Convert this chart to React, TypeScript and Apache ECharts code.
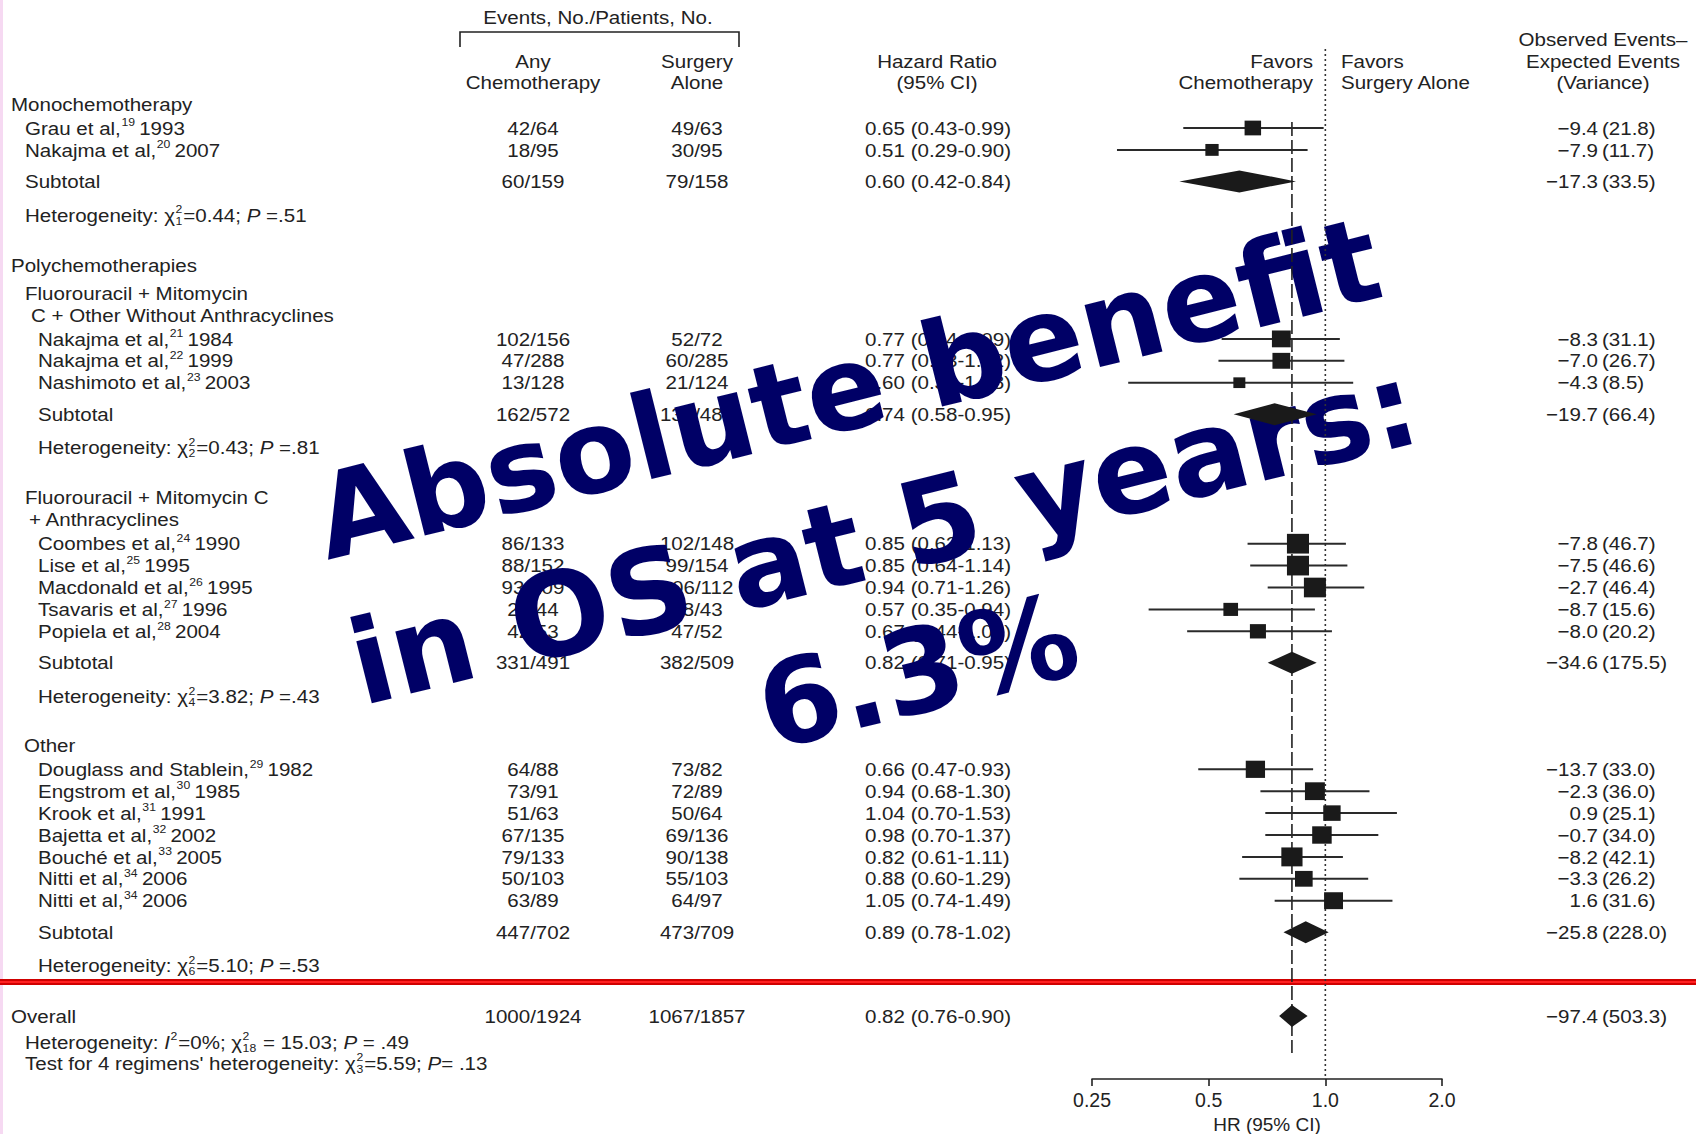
import React, { useEffect, useRef } from "react";
import * as echarts from "echarts";

// ---------------- data ----------------
const studyNames = ["Grau et al,", "Nakajma et al,", "Nakajma et al,", "Nakajma et al,", "Nashimoto et al,", "Coombes et al,", "Lise et al,", "Macdonald et al,", "Tsavaris et al,", "Popiela et al,", "Douglass and Stablein,", "Engstrom et al,", "Krook et al,", "Bajetta et al,", "Bouché et al,", "Nitti et al,", "Nitti et al,"];
const studyRefs = ["19", "20", "21", "22", "23", "24", "25", "26", "27", "28", "29", "30", "31", "32", "33", "34", "34"];
const studyYears = ["1993", "2007", "1984", "1999", "2003", "1990", "1995", "1995", "1996", "2004", "1982", "1985", "1991", "2002", "2005", "2006", "2006"];
const studyGroup = [0, 0, 1, 1, 1, 2, 2, 2, 2, 2, 3, 3, 3, 3, 3, 3, 3];
const chemoEvents = [42, 18, 102, 47, 13, 86, 88, 93, 22, 42, 64, 73, 51, 67, 79, 50, 63];
const chemoPatients = [64, 95, 156, 288, 128, 133, 152, 109, 44, 53, 88, 91, 63, 135, 133, 103, 89];
const surgEvents = [49, 30, 52, 60, 21, 102, 99, 106, 28, 47, 73, 72, 50, 69, 90, 55, 64];
const surgPatients = [63, 95, 72, 285, 124, 148, 154, 112, 43, 52, 82, 89, 64, 136, 138, 103, 97];
const hrEst = [0.65, 0.51, 0.77, 0.77, 0.60, 0.85, 0.85, 0.94, 0.57, 0.67, 0.66, 0.94, 1.04, 0.98, 0.82, 0.88, 1.05];
const hrLow = [0.43, 0.29, 0.54, 0.53, 0.31, 0.63, 0.64, 0.71, 0.35, 0.44, 0.47, 0.68, 0.70, 0.70, 0.61, 0.60, 0.74];
const hrHigh = [0.99, 0.90, 1.09, 1.12, 1.18, 1.13, 1.14, 1.26, 0.94, 1.04, 0.93, 1.30, 1.53, 1.37, 1.11, 1.29, 1.49];
const oMinusE = [-9.4, -7.9, -8.3, -7.0, -4.3, -7.8, -7.5, -2.7, -8.7, -8.0, -13.7, -2.3, 0.9, -0.7, -8.2, -3.3, 1.6];
const variance = [21.8, 11.7, 31.1, 26.7, 8.5, 46.7, 46.6, 46.4, 15.6, 20.2, 33.0, 36.0, 25.1, 34.0, 42.1, 26.2, 31.6];

const groupTitles = [["Monochemotherapy"], ["Fluorouracil + Mitomycin", "C + Other Without Anthracyclines"], ["Fluorouracil + Mitomycin C", "+ Anthracyclines"], ["Other"]];
const subChemoEvents = [60, 162, 331, 447];
const subChemoPatients = [159, 572, 491, 702];
const subSurgEvents = [79, 133, 382, 473];
const subSurgPatients = [158, 481, 509, 709];
const subHr = [0.60, 0.74, 0.82, 0.89];
const subLow = [0.42, 0.58, 0.71, 0.78];
const subHigh = [0.84, 0.95, 0.95, 1.02];
const subOE = [-17.3, -19.7, -34.6, -25.8];
const subVar = [33.5, 66.4, 175.5, 228.0];
const hetChi = ["0.44", "0.43", "3.82", "5.10"];
const hetDf = ["1", "2", "4", "6"];
const hetP = [".51", ".81", ".43", ".53"];

const overallChemo = "1000/1924";
const overallSurg = "1067/1857";
const overallHr = 0.82;
const overallLow = 0.76;
const overallHigh = 0.90;
const overallOE = -97.4;
const overallVar = 503.3;

const axisTicks = [0.25, 0.5, 1, 2];
const axisTickLabels = ["0.25", "0.5", "1.0", "2.0"];

// ---------------- style ----------------
const INK = "#222";
const FS = 18.5;
const SX = 1.11;
const FAMILY = "'Liberation Sans', Arial, Helvetica, sans-serif";
const SCRIPT = 11;

let measureCtx: CanvasRenderingContext2D | null = null;
function tw(s: string, size: number, italic = false): number {
  if (!measureCtx) measureCtx = document.createElement("canvas").getContext("2d");
  measureCtx!.font = `${italic ? "italic " : ""}${size}px "Liberation Sans"`;
  return measureCtx!.measureText(s).width * SX;
}

function txt(text: string, x: number, y: number, align = "left", size = FS, italic = false): any {
  const font = `${italic ? "italic " : ""}${size}px ${FAMILY}`;
  return {
    type: "text",
    x,
    y,
    scaleX: SX,
    silent: true,
    style: {
      text,
      x: 0,
      y: 0,
      fill: INK,
      font,
      fontSize: size,
      fontFamily: FAMILY,
      fontStyle: italic ? "italic" : "normal",
      textAlign: align,
      align,
      textVerticalAlign: "middle",
      verticalAlign: "middle",
    },
  };
}

type Seg = string | { i: string } | { sup?: string; sub?: string };

function seq(out: any[], segs: Seg[], x0: number, y: number, scriptGap = 1.5) {
  let x = x0;
  for (const s of segs) {
    if (typeof s === "string") {
      const lead = s.length - s.replace(/^\s+/, "").length;
      if (lead) x += tw(s.slice(0, lead), FS);
      const body = s.replace(/^\s+/, "");
      out.push(txt(body, x, y));
      x += tw(body, FS);
    } else if ("i" in s) {
      out.push(txt(s.i, x, y, "left", FS, true));
      x += tw(s.i, FS, true);
    } else {
      let w = 0;
      if (s.sup) {
        out.push(txt(s.sup, x + 0.5, y - 6, "left", SCRIPT));
        w = Math.max(w, tw(s.sup, SCRIPT));
      }
      if (s.sub) {
        out.push(txt(s.sub, x + 0.5, y + 5.5, "left", SCRIPT));
        w = Math.max(w, tw(s.sub, SCRIPT));
      }
      x += w + scriptGap;
    }
  }
}

const fmtHr = (h: number, l: number, u: number) => `${h.toFixed(2)} (${l.toFixed(2)}-${u.toFixed(2)})`;
const fmtOE = (v: number) => (v < 0 ? "\u2212" : "") + Math.abs(v).toFixed(1);

function buildOption() {
  const g: any[] = [];
  // left pink strip of the slide
  g.push({ type: "rect", shape: { x: 0, y: 0, width: 3, height: 1134 }, style: { fill: "#f6d9f2" }, silent: true });

  // headers
  g.push(txt("Events, No./Patients, No.", 598, 17, "center"));
  g.push({
    type: "polyline",
    shape: { points: [[460, 47], [460, 32], [739, 32], [739, 47]] },
    style: { stroke: INK, lineWidth: 1.6, fill: null },
    silent: true,
  });
  g.push(txt("Any", 533, 61, "center"));
  g.push(txt("Chemotherapy", 533, 82, "center"));
  g.push(txt("Surgery", 697, 61, "center"));
  g.push(txt("Alone", 697, 82, "center"));
  g.push(txt("Hazard Ratio", 937, 61, "center"));
  g.push(txt("(95% CI)", 937, 82, "center"));
  g.push(txt("Favors", 1313, 61, "right"));
  g.push(txt("Chemotherapy", 1313, 82, "right"));
  g.push(txt("Favors", 1341, 61, "left"));
  g.push(txt("Surgery Alone", 1341, 82, "left"));
  g.push(txt("Observed Events\u2013", 1603, 39, "center"));
  g.push(txt("Expected Events", 1603, 61, "center"));
  g.push(txt("(Variance)", 1603, 82, "center"));

  // layout of rows
  const N = studyNames.length;
  const rowY: number[] = new Array(N).fill(0);
  const subY: number[] = [];
  const hetY: number[] = [];
  const titleX = [[11], [25, 31], [25, 29], [24]];
  const studyX = [25, 38, 38, 38];
  const STEP = 21.9;
  let cur = 104;
  for (let gi = 0; gi < 4; gi++) {
    if (gi === 1) {
      g.push(txt("Polychemotherapies", 11, cur));
      cur += 28;
    }
    groupTitles[gi].forEach((t, i) => {
      g.push(txt(t, titleX[gi][i], cur));
      if (i < groupTitles[gi].length - 1) cur += 22;
    });
    cur += 24;
    const idx = studyGroup.map((v, i) => (v === gi ? i : -1)).filter((i) => i >= 0);
    idx.forEach((i, k) => {
      rowY[i] = cur;
      if (k < idx.length - 1) cur += STEP;
    });
    cur += 31.5;
    subY[gi] = cur;
    cur += 33.5;
    hetY[gi] = cur;
    cur += gi === 2 ? 49 : 50;
  }

  const OE_X = 1598;
  const VAR_X = 1602;
  for (let i = 0; i < N; i++) {
    const y = rowY[i];
    seq(g, [studyNames[i], { sup: studyRefs[i] }, " " + studyYears[i]], studyX[studyGroup[i]], y, -1);
    g.push(txt(`${chemoEvents[i]}/${chemoPatients[i]}`, 533, y, "center"));
    g.push(txt(`${surgEvents[i]}/${surgPatients[i]}`, 697, y, "center"));
    g.push(txt(fmtHr(hrEst[i], hrLow[i], hrHigh[i]), 865, y, "left"));
    g.push(txt(fmtOE(oMinusE[i]), OE_X, y, "right"));
    g.push(txt(`(${variance[i].toFixed(1)})`, VAR_X, y, "left"));
  }
  for (let gi = 0; gi < 4; gi++) {
    const x = studyX[gi];
    g.push(txt("Subtotal", x, subY[gi]));
    g.push(txt(`${subChemoEvents[gi]}/${subChemoPatients[gi]}`, 533, subY[gi], "center"));
    g.push(txt(`${subSurgEvents[gi]}/${subSurgPatients[gi]}`, 697, subY[gi], "center"));
    g.push(txt(fmtHr(subHr[gi], subLow[gi], subHigh[gi]), 865, subY[gi], "left"));
    g.push(txt(fmtOE(subOE[gi]), OE_X, subY[gi], "right"));
    g.push(txt(`(${subVar[gi].toFixed(1)})`, VAR_X, subY[gi], "left"));
    seq(g, ["Heterogeneity: \u03c7", { sup: "2", sub: hetDf[gi] }, `=${hetChi[gi]}; `, { i: "P" }, ` =${hetP[gi]}`], x, hetY[gi]);
  }

  // red separator
  g.push({ type: "rect", shape: { x: 0, y: 979, width: 1696, height: 6 }, style: { fill: "#d00000" }, silent: true });
  g.push({ type: "rect", shape: { x: 0, y: 981, width: 1696, height: 2 }, style: { fill: "#ff2020" }, silent: true });

  // overall
  const oy = 1016;
  g.push(txt("Overall", 11, oy));
  g.push(txt(overallChemo, 533, oy, "center"));
  g.push(txt(overallSurg, 697, oy, "center"));
  g.push(txt(fmtHr(overallHr, overallLow, overallHigh), 865, oy, "left"));
  g.push(txt(fmtOE(overallOE), OE_X, oy, "right"));
  g.push(txt(`(${overallVar.toFixed(1)})`, VAR_X, oy, "left"));
  seq(g, ["Heterogeneity: ", { i: "I" }, { sup: "2" }, "=0%; \u03c7", { sup: "2", sub: "18" }, " = 15.03; ", { i: "P" }, " = .49"], 25, 1042);
  seq(g, ["Test for 4 regimens' heterogeneity: \u03c7", { sup: "2", sub: "3" }, "=5.59; ", { i: "P" }, "= .13"], 25, 1063);

  // watermark
  const wm = (text: string, y: number) => ({
    type: "text",
    x: 0,
    y,
    silent: true,
    style: {
      text,
      x: 0,
      y: 0,
      fill: "#000066",
      font: `bold 117px 'DejaVu Sans', Verdana, sans-serif`,
      fontSize: 117,
      fontWeight: "bold",
      fontFamily: "'DejaVu Sans', Verdana, sans-serif",
      textAlign: "center",
      align: "center",
      textVerticalAlign: "middle",
      verticalAlign: "middle",
    },
  });
  g.push({
    type: "group",
    x: 892,
    y: 568,
    rotation: (14 * Math.PI) / 180,
    z: 100,
    silent: true,
    children: [wm("Absolute benefit", -185), wm("in OS at 5 years:", -35), wm("6.3%", 107)],
  });

  // series data
  const ciData = hrEst.map((_, i) => [hrLow[i], hrHigh[i], rowY[i]]);
  const boxData = hrEst.map((h, i) => [h, rowY[i], variance[i]]);
  const diamondData = subHr.map((h, i) => [h, subLow[i], subHigh[i], subY[i]]);
  diamondData.push([overallHr, overallLow, overallHigh, oy]);

  return {
    animation: false,
    backgroundColor: "#fff",
    grid: { left: 1092, width: 350, top: 0, height: 1079, containLabel: false, outerBoundsMode: "none" },
    xAxis: {
      type: "log",
      logBase: 2,
      min: axisTicks[0],
      max: axisTicks[axisTicks.length - 1],
      splitLine: { show: false },
      axisLine: { onZero: false, lineStyle: { color: INK, width: 1.6 } },
      axisTick: { length: 7, lineStyle: { color: INK, width: 1.6 } },
      minorTick: { show: false },
      axisLabel: {
        color: INK,
        fontSize: 19.5,
        fontFamily: FAMILY,
        margin: 11,
        formatter: (v: number) => {
          const k = axisTicks.findIndex((t) => Math.abs(t - v) < 1e-6);
          return k >= 0 ? axisTickLabels[k] : "";
        },
      },
      name: "HR (95% CI)",
      nameLocation: "middle",
      nameGap: 30,
      nameTextStyle: { color: INK, fontSize: 19, fontFamily: FAMILY },
    },
    yAxis: { type: "value", min: 0, max: 1079, inverse: true, show: false },
    graphic: g,
    series: [
      {
        type: "line",
        data: [[1, 49], [1, 1079]],
        symbol: "none",
        silent: true,
        lineStyle: { color: "#333", width: 1.6, type: [2, 3] },
        z: 1,
      },
      {
        type: "line",
        data: [[overallHr, 122], [overallHr, 1053]],
        symbol: "none",
        silent: true,
        lineStyle: { color: "#222", width: 1.6, type: [14, 4] },
        z: 1,
      },
      {
        type: "custom",
        data: ciData,
        encode: { x: [0, 1], y: 2 },
        silent: true,
        z: 2,
        renderItem: (_p: any, api: any) => {
          const a = api.coord([api.value(0), api.value(2)]);
          const b = api.coord([api.value(1), api.value(2)]);
          return { type: "line", shape: { x1: a[0], y1: a[1], x2: b[0], y2: b[1] }, style: { stroke: "#2a2a2a", lineWidth: 2 } };
        },
      },
      {
        type: "custom",
        data: boxData,
        encode: { x: 0, y: 1 },
        silent: true,
        z: 3,
        renderItem: (_p: any, api: any) => {
          const c = api.coord([api.value(0), api.value(1)]);
          const h = 4 + 2.3 * Math.sqrt(api.value(2));
          const w = h * 1.12;
          return { type: "rect", shape: { x: c[0] - w / 2, y: c[1] - h / 2, width: w, height: h }, style: { fill: "#1a1a1a" } };
        },
      },
      {
        type: "custom",
        data: diamondData,
        encode: { x: [1, 2], y: 3 },
        silent: true,
        z: 3,
        renderItem: (_p: any, api: any) => {
          const y = api.value(3);
          const l = api.coord([api.value(1), y]);
          const r = api.coord([api.value(2), y]);
          const m = api.coord([api.value(0), y]);
          const hh = 11;
          return {
            type: "polygon",
            shape: { points: [[l[0], l[1]], [m[0], m[1] - hh], [r[0], r[1]], [m[0], m[1] + hh]] },
            style: { fill: "#1a1a1a" },
          };
        },
      },
    ],
  };
}

export default function App() {
  const ref = useRef<HTMLDivElement>(null);
  useEffect(() => {
    const chart = echarts.init(ref.current!, null, { renderer: "svg" });
    chart.setOption(buildOption() as any);
    return () => chart.dispose();
  }, []);
  return <div ref={ref} style={{ position: "absolute", left: 0, top: 0, width: 1696, height: 1134, background: "#fff" }} />;
}
